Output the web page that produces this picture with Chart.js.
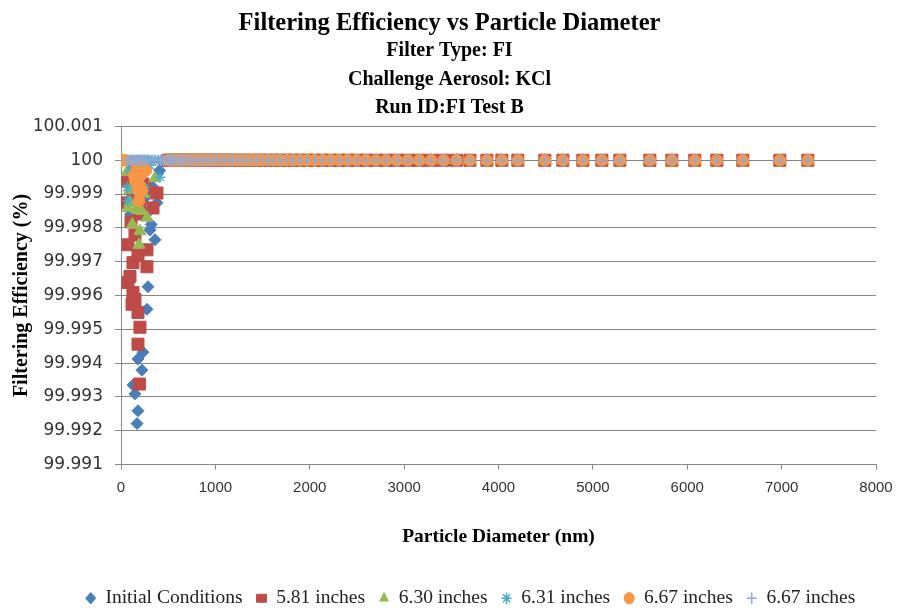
<!DOCTYPE html>
<html>
<head>
<meta charset="utf-8">
<script src="https://cdn.jsdelivr.net/npm/chart.js@4/dist/chart.umd.min.js"></script>
<style>
  html, body { margin: 0; padding: 0; background: #fff; }
  #wrap { width: 899px; height: 609px; }
</style>
</head>
<body>
<div id="wrap"><canvas id="chart" width="899" height="609"></canvas></div>
<script>
// particle diameters (nm) where every run sits at 100 %
const bandDiam = [500, 520, 541, 562, 585, 608, 633, 658, 684, 712, 740, 770, 801, 833, 866, 901, 937, 974,
  1013, 1054, 1096, 1140, 1185, 1233, 1282, 1333, 1387, 1442, 1500, 1560, 1622, 1687, 1755, 1825, 1898, 1974,
  2053, 2135, 2220, 2309, 2402, 2498, 2598, 2701, 2809, 2922, 3039, 3160, 3287, 3418, 3555, 3697,
  3877, 4036, 4205, 4491, 4682, 4894, 5095, 5286, 5604, 5837, 6080, 6314, 6589, 6981, 7278];
// small diameters where the 6.31 / last 6.67 runs are still at 100 %
const smallDiam = [60, 80, 100, 120, 140, 160, 180, 200, 220, 240, 260, 280, 300, 330, 360, 390, 420, 450, 480];

// [diameter nm, efficiency %] below 100
const initialLow = [[170, 99.99221], [180, 99.99259], [148, 99.99309], [127, 99.99335], [222, 99.99379], [180, 99.99412],
  [233, 99.99432], [275, 99.99559], [286, 99.99626], [360, 99.99765], [307, 99.99794], [320, 99.9981], [300, 99.9985],
  [381, 99.99874], [100, 99.9984], [340, 99.9992], [260, 99.9989], [410, 99.9997]];
const in581Low = [[195, 99.99338], [180, 99.99456], [201, 99.99506], [180, 99.9955], [117, 99.99574], [148, 99.99588],
  [127, 99.99609], [74, 99.99638], [95, 99.99656], [275, 99.99685], [127, 99.99697], [180, 99.9972], [74, 99.9975],
  [275, 99.99735], [148, 99.99779], [106, 99.99818], [191, 99.99841], [339, 99.99859], [42, 99.99874], [201, 99.99868],
  [127, 99.99894], [381, 99.99903], [254, 99.99918], [74, 99.99941], [201, 99.9997], [127, 99.99991], [230, 99.9993]];
const in630Low = [[191, 99.9975], [201, 99.9979], [120, 99.9981], [275, 99.9983], [170, 99.99853], [220, 99.9985],
  [74, 99.99859], [95, 99.99874], [240, 99.999], [95, 99.99912], [150, 99.9993], [360, 99.99947], [64, 99.99965]];
const in631Low = [[74, 99.9988], [200, 99.9989], [140, 99.9991], [64, 99.9992], [254, 99.9992], [170, 99.9994],
  [413, 99.9995], [95, 99.9997], [307, 99.99985]];
const in667Low = [[190, 99.9988], [180, 99.99912], [220, 99.9991], [201, 99.99924], [180, 99.99932], [150, 99.9994],
  [212, 99.99956], [138, 99.99956], [170, 99.9997], [265, 99.9997], [233, 99.9998], [159, 99.99991], [20, 100], [40, 100]];
const in667bLow = [];

const yTicks = [99.991, 99.992, 99.993, 99.994, 99.995, 99.996, 99.997, 99.998, 99.999, 100, 100.001];

const seriesNames = ['Initial Conditions', '5.81 inches', '6.30 inches', '6.31 inches', '6.67 inches', '6.67 inches'];

function pts(low, extra) {
  const out = low.map(p => ({ x: p[0], y: p[1] }));
  (extra || []).forEach(d => out.push({ x: d, y: 100 }));
  bandDiam.forEach(d => out.push({ x: d, y: 100 }));
  return out;
}

const styles = [
  { pointStyle: 'rectRot', color: '#4A7EBB', r: 6 },
  { pointStyle: 'rect', color: '#BE4B48', r: 8.5 },
  { pointStyle: 'triangle', color: '#98B954', r: 7 },
  { pointStyle: 'star', color: '#4BACC6', r: 5.5 },
  { pointStyle: 'circle', color: '#F79646', r: 5.8 },
  { pointStyle: 'cross', color: '#92A9D6', r: 5.5 }
];
const lows = [initialLow, in581Low, in630Low, in631Low, in667Low, in667bLow];
const extras = [null, null, null, smallDiam, null, smallDiam];

const datasets = seriesNames.map((name, i) => ({
  label: name,
  data: pts(lows[i], extras[i]),
  pointStyle: styles[i].pointStyle,
  pointRadius: styles[i].r,
  pointHoverRadius: styles[i].r,
  backgroundColor: styles[i].color,
  borderColor: styles[i].color,
  pointBorderWidth: (i === 3 || i === 5) ? 1.5 : 1,
  showLine: false,
  order: 5 - i
}));

const serif = 'Liberation Serif';

// the legend in the original sits a bit right of centre
const legendShift = {
  id: 'legendShift',
  afterLayout(chart) {
    chart.legend.left += 21;
    chart.legend.right += 21;
  }
};

new Chart(document.getElementById('chart'), {
  type: 'scatter',
  data: { datasets: datasets },
  plugins: [legendShift],
  options: {
    responsive: false,
    animation: false,
    layout: { padding: { left: 0, right: 0, top: 0, bottom: -9 } },
    scales: {
      x: {
        type: 'linear',
        min: 0,
        max: 8000,
        ticks: {
          stepSize: 1000, color: '#333', padding: 9,
          font: { family: 'Liberation Sans', size: 15 },
          callback: v => String(v)
        },
        grid: { drawOnChartArea: false, tickLength: 5, color: '#868686' },
        border: { color: '#868686' },
        title: {
          display: true,
          text: 'Particle Diameter (nm)',
          color: '#000',
          font: { family: serif, size: 19.5, weight: 'bold' },
          padding: { top: 0, bottom: 26 }
        },
        afterFit: s => { s.height = 110; s.paddingRight = 23; }
      },
      y: {
        type: 'linear',
        min: 99.991,
        max: 100.001,
        afterBuildTicks: s => { s.ticks = yTicks.map(v => ({ value: v })); },
        ticks: {
          color: '#333',
          padding: 12,
          font: { family: 'DejaVu Sans', size: 17 },
          callback: v => parseFloat(Number(v).toFixed(3)).toString()
        },
        grid: { color: '#868686', tickLength: 6 },
        border: { color: '#868686' },
        title: {
          display: true,
          text: 'Filtering Efficiency (%)',
          color: '#000',
          font: { family: serif, size: 20, weight: 'bold' },
          padding: { top: 10, bottom: 0 }
        },
        afterFit: s => { s.width = 121; }
      }
    },
    plugins: {
      tooltip: { enabled: false },
      title: {
        display: true,
        text: 'Filtering Efficiency vs Particle Diameter',
        color: '#000',
        font: { family: serif, size: 24.5, weight: 'bold', lineHeight: 1.1 },
        padding: { top: 10, bottom: 0 }
      },
      subtitle: {
        display: true,
        text: ['Filter Type: FI', 'Challenge Aerosol: KCl', 'Run ID:FI Test B'],
        color: '#000',
        font: { family: serif, size: 20, weight: 'bold', lineHeight: 1.425 },
        padding: { top: 0, bottom: 4 }
      },
      legend: {
        position: 'bottom',
        labels: {
          sort: (a, b) => a.datasetIndex - b.datasetIndex,
          usePointStyle: true,
          boxHeight: 8,
          pointStyleWidth: 10,
          padding: 14,
          color: '#222',
          font: { family: serif, size: 19.5 }
        }
      }
    }
  }
});
</script>
</body>
</html>
